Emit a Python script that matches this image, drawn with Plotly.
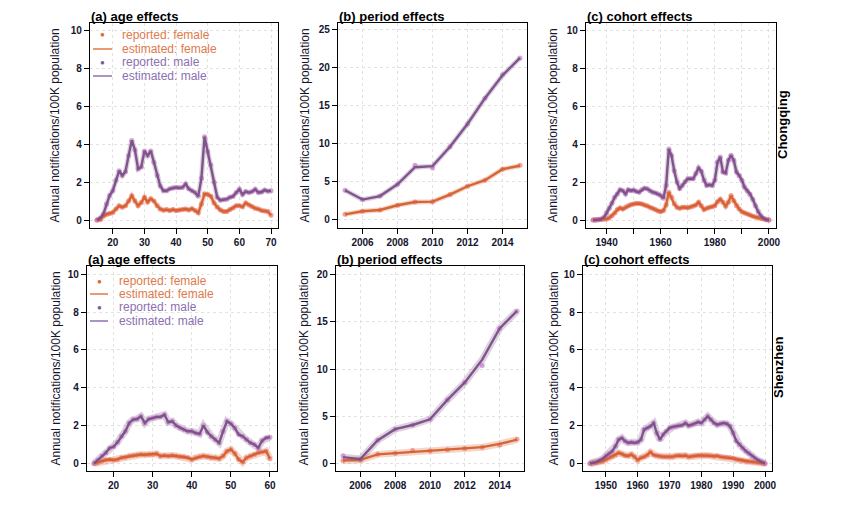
import plotly.graph_objects as go

# page is 843x507; plotly's page body has an 8px margin, so the figure is drawn at (8, 8)
PAGE_W, PAGE_H = 843, 507
OFF = 8
W, H = PAGE_W - OFF, PAGE_H - OFF

# ---------------- data ----------------
age_cq = list(range(15, 71))
male_age_cq = [0, 0.1, 0.3, 0.85, 1.3, 1.55, 2.1, 2.6, 2.35, 2.55,
               3.4, 4.2, 3.7, 2.7, 2.8, 3.65, 3.4, 3.65, 3.05, 2.35,
               1.8, 1.55, 1.55, 1.65, 1.7, 1.72, 1.7, 1.72, 1.9, 1.65,
               1.55, 1.45, 1.25, 2.2, 4.4, 3.6, 2.9, 2.0, 1.2, 1.05,
               1.08, 1.1, 1.2, 1.25, 1.45, 1.62, 1.35, 1.5, 1.45, 1.5,
               1.62, 1.45, 1.48, 1.58, 1.52, 1.55]
female_age_cq = [0, 0.02, 0.2, 0.3, 0.35, 0.4, 0.58, 0.75, 0.68, 0.75,
                 1.0, 1.28, 1.0, 0.76, 0.92, 1.2, 0.95, 1.12, 1.0, 0.75,
                 0.58, 0.52, 0.55, 0.5, 0.55, 0.5, 0.53, 0.55, 0.58, 0.53,
                 0.6, 0.5, 0.38, 0.85, 1.38, 1.35, 1.25, 0.9, 0.68, 0.53,
                 0.45, 0.45, 0.55, 0.63, 0.76, 0.76, 0.7, 0.9, 0.8, 0.72,
                 0.62, 0.58, 0.5, 0.48, 0.45, 0.25]

year = list(range(2005, 2016))
male_per_cq_est = [3.87, 2.64, 3.1, 4.66, 6.9, 7.05, 9.6, 12.6, 16.0, 19.0, 21.3]
male_per_cq_rep = [3.87, 2.64, 3.1, 4.66, 7.15, 6.8, 9.6, 12.6, 16.0, 19.1, 21.3]
female_per_cq_est = [0.7, 1.1, 1.27, 1.9, 2.33, 2.37, 3.3, 4.4, 5.2, 6.65, 7.1]
female_per_cq_rep = [0.7, 1.1, 1.27, 1.9, 2.33, 2.37, 3.3, 4.4, 5.2, 6.65, 7.15]

cohort_cq = list(range(1935, 2001))
male_coh_cq = [0, 0, 0.02, 0.05, 0.14, 0.37, 0.62, 0.9, 1.2, 1.38,
               1.6, 1.55, 1.38, 1.6, 1.55, 1.58, 1.5, 1.47, 1.6, 1.68,
               1.65, 1.55, 1.47, 1.43, 1.38, 1.3, 1.15, 1.82, 3.75, 3.4,
               2.6, 2.0, 1.65, 1.82, 2.03, 2.18, 2.18, 2.18, 2.45, 2.75,
               2.57, 2.1, 1.82, 1.86, 1.82, 2.1, 3.06, 3.33, 2.53, 2.48,
               3.15, 3.42, 3.15, 2.53, 2.35, 2.1, 1.73, 1.55, 1.38, 1.1,
               0.76, 0.44, 0.23, 0.09, 0.02, 0]
female_coh_cq = [0, 0, 0.01, 0.03, 0.05, 0.05, 0.12, 0.23, 0.37, 0.55,
                 0.64, 0.58, 0.67, 0.76, 0.81, 0.85, 0.88, 0.87, 0.85, 0.8,
                 0.76, 0.67, 0.62, 0.55, 0.48, 0.44, 0.5, 0.8, 1.47, 1.2,
                 0.85, 0.67, 0.62, 0.67, 0.67, 0.65, 0.69, 0.73, 0.8, 0.94,
                 0.76, 0.55, 0.62, 0.67, 0.7, 0.76, 0.97, 1.1, 0.94, 0.73,
                 0.94, 1.29, 1.02, 0.76, 0.58, 0.44, 0.37, 0.32, 0.27, 0.2,
                 0.16, 0.12, 0.09, 0.05, 0.02, 0]

age_sz = list(range(15, 61))
male_age_sz = [0, 0.18, 0.39, 0.56, 0.82, 0.88, 1.12, 1.44, 1.7, 2.14,
               2.32, 2.35, 2.49, 2.14, 2.35, 2.4, 2.46, 2.46, 2.58, 2.18,
               2.23, 2.0, 1.88, 1.79, 1.7, 1.7, 1.61, 1.56, 2.0, 1.65,
               1.44, 1.26, 1.09, 1.7, 2.23, 2.1, 1.88, 1.53, 1.44, 1.26,
               1.09, 1.0, 0.82, 1.2, 1.35, 1.39]
female_age_sz = [0, 0.04, 0.12, 0.18, 0.21, 0.18, 0.21, 0.3, 0.33, 0.39,
                 0.42, 0.44, 0.47, 0.46, 0.47, 0.47, 0.51, 0.39, 0.42, 0.39,
                 0.42, 0.39, 0.35, 0.35, 0.3, 0.21, 0.3, 0.35, 0.39, 0.35,
                 0.3, 0.3, 0.26, 0.39, 0.65, 0.74, 0.53, 0.21, 0.07, 0.3,
                 0.39, 0.47, 0.56, 0.6, 0.65, 0.25]

male_per_sz_est = [0.7, 0.5, 2.5, 3.66, 4.1, 4.7, 6.75, 8.6, 11.0, 14.3, 16.15]
male_per_sz_rep = [0.85, 0.45, 2.5, 3.66, 4.1, 4.7, 6.75, 8.6, 10.4, 14.3, 16.15]
female_per_sz_est = [0.35, 0.42, 1.0, 1.12, 1.3, 1.34, 1.48, 1.62, 1.76, 2.1, 2.55]
female_per_sz_rep = [0.35, 0.42, 1.0, 1.12, 1.4, 1.34, 1.48, 1.62, 1.76, 2.0, 2.6]

cohort_sz = list(range(1945, 2001))
male_coh_sz = [0, 0.04, 0.07, 0.16, 0.25, 0.39, 0.53, 0.65, 0.91, 1.26,
               1.35, 1.18, 1.09, 1.12, 1.09, 1.12, 1.26, 1.79, 1.88, 1.96,
               2.14, 1.61, 1.26, 1.53, 1.7, 1.88, 1.93, 1.96, 2.0, 2.02,
               2.14, 2.0, 2.05, 2.1, 2.19, 2.14, 2.32, 2.49, 2.32, 2.14,
               2.05, 2.1, 2.14, 2.1, 1.96, 1.61, 1.18, 1.0, 0.82, 0.65,
               0.53, 0.39, 0.25, 0.16, 0.07, 0]
female_coh_sz = [0, 0.02, 0.04, 0.08, 0.12, 0.21, 0.3, 0.37, 0.45, 0.56,
                 0.5, 0.42, 0.4, 0.47, 0.35, 0.18, 0.3, 0.35, 0.45, 0.6,
                 0.45, 0.4, 0.38, 0.36, 0.35, 0.35, 0.36, 0.4, 0.42, 0.4,
                 0.42, 0.35, 0.38, 0.4, 0.42, 0.42, 0.42, 0.42, 0.4, 0.38,
                 0.4, 0.35, 0.33, 0.32, 0.3, 0.27, 0.22, 0.18, 0.15, 0.12,
                 0.1, 0.08, 0.06, 0.04, 0.02, 0]

legend_labels = ["reported: female", "estimated: female", "reported: male", "estimated: male"]
panel_titles = ["(a) age effects", "(b) period effects", "(c) cohort effects"]
region_labels = ["Chongqing", "Shenzhen"]
ytitle = "Annual notifications/100K population"

# ---------------- style ----------------
MALE = "#7B4F88"
FEMALE = "#D4602E"
MALE_PT = "rgba(190,115,190,0.65)"
FEMALE_PT = "rgba(238,110,100,0.65)"
FONT = "Liberation Sans, Arial, sans-serif"
TXT = "#15152e"


def fx(px):
    return (px - OFF) / W


def fy(py):
    return 1 - (py - OFF) / H


panels = [
    dict(px=(90, 278), py=(23, 228), xr=[12.8, 72.2], yr=[-0.42, 10.4],
         xt=[20, 30, 40, 50, 60, 70], xl=None, yt=[0, 2, 4, 6, 8, 10],
         x=age_cq, mr=male_age_cq, me=male_age_cq, fr=female_age_cq, fe=female_age_cq, bw=5),
    dict(px=(338, 527), py=(23, 228), xr=[2004.6, 2015.4], yr=[-1.1, 25.9],
         xt=[2006, 2008, 2010, 2012, 2014], xl=None, yt=[0, 5, 10, 15, 20, 25],
         x=year, mr=male_per_cq_rep, me=male_per_cq_est, fr=female_per_cq_rep, fe=female_per_cq_est, bw=5),
    dict(px=(586, 776), py=(23, 228), xr=[1932.4, 2002.6], yr=[-0.42, 10.4],
         xt=[1940, 1950, 1960, 1970, 1980, 1990, 2000], xl=["1940", "", "1960", "", "1980", "", "2000"],
         yt=[0, 2, 4, 6, 8, 10],
         x=cohort_cq, mr=male_coh_cq, me=male_coh_cq, fr=female_coh_cq, fe=female_coh_cq, bw=5),
    dict(px=(87, 277), py=(266, 471), xr=[13.2, 61.8], yr=[-0.4, 10.44],
         xt=[20, 30, 40, 50, 60], xl=None, yt=[0, 2, 4, 6, 8, 10],
         x=age_sz, mr=male_age_sz, me=male_age_sz, fr=female_age_sz, fe=female_age_sz, bw=7),
    dict(px=(336, 524), py=(266, 471), xr=[2004.6, 2015.4], yr=[-0.76, 20.9],
         xt=[2006, 2008, 2010, 2012, 2014], xl=None, yt=[0, 5, 10, 15, 20],
         x=year, mr=male_per_sz_rep, me=male_per_sz_est, fr=female_per_sz_rep, fe=female_per_sz_est, bw=7),
    dict(px=(583, 772), py=(266, 471), xr=[1942.8, 2002.2], yr=[-0.4, 10.44],
         xt=[1950, 1960, 1970, 1980, 1990, 2000], xl=None, yt=[0, 2, 4, 6, 8, 10],
         x=cohort_sz, mr=male_coh_sz, me=male_coh_sz, fr=female_coh_sz, fe=female_coh_sz, bw=7),
]

fig = go.Figure()
layout = dict(width=W, height=H, margin=dict(l=0, r=0, t=0, b=0, autoexpand=False),
              paper_bgcolor="white", plot_bgcolor="white", showlegend=False,
              font=dict(family=FONT, color=TXT))
annotations = []
shapes = []

for i, p in enumerate(panels, start=1):
    xa = "x" if i == 1 else f"x{i}"
    ya = "y" if i == 1 else f"y{i}"
    for yv, col in ((p["fe"], FEMALE), (p["me"], MALE)):
        fig.add_trace(go.Scatter(x=p["x"], y=yv, xaxis=xa, yaxis=ya, mode="lines",
                                 line=dict(color=col, width=p["bw"]), opacity=0.25,
                                 hoverinfo="skip"))
    for yv, col in ((p["fr"], FEMALE_PT), (p["mr"], MALE_PT)):
        fig.add_trace(go.Scatter(x=p["x"], y=yv, xaxis=xa, yaxis=ya, mode="markers",
                                 marker=dict(color=col, size=5, line=dict(width=0))))
    for yv, col in ((p["fe"], FEMALE), (p["me"], MALE)):
        fig.add_trace(go.Scatter(x=p["x"], y=yv, xaxis=xa, yaxis=ya, mode="lines",
                                 line=dict(color=col, width=2.4), opacity=0.95))

    x0, x1 = p["px"]
    y0, y1 = p["py"]
    common = dict(showline=True, linecolor="black", linewidth=1.3, mirror=True,
                  ticks="outside", ticklen=5, tickwidth=1, tickcolor="black",
                  showgrid=True, gridcolor="#e2e2e2", griddash="3px,3px", gridwidth=1,
                  zeroline=False, tickfont=dict(family=FONT, size=10, color=TXT, weight="bold"))
    xax = dict(domain=[fx(x0), fx(x1)], range=p["xr"], anchor=ya,
               tickmode="array", tickvals=p["xt"],
               ticktext=p["xl"] if p["xl"] else [str(v) for v in p["xt"]], **common)
    yax = dict(domain=[fy(y1), fy(y0)], range=p["yr"], anchor=xa,
               tickmode="array", tickvals=p["yt"], ticktext=[str(v) for v in p["yt"]], **common)
    layout["xaxis" if i == 1 else f"xaxis{i}"] = xax
    layout["yaxis" if i == 1 else f"yaxis{i}"] = yax

    col = (i - 1) % 3
    annotations.append(dict(text=f"<b>{panel_titles[col]}</b>", x=fx(x0), y=fy(y0 - 6.5),
                            xref="paper", yref="paper", xanchor="left", yanchor="middle",
                            borderpad=0, showarrow=False,
                            font=dict(size=13, color="black", family=FONT)))
    ytx = [55, 305, 553][col] if i <= 3 else [55, 303, 553][col]
    annotations.append(dict(text=ytitle, x=fx(ytx), y=fy((y0 + y1) / 2),
                            xref="paper", yref="paper", xanchor="center", yanchor="middle",
                            textangle=-90, showarrow=False, font=dict(size=12, color=TXT, family=FONT)))

for lab, (xp, yp) in zip(region_labels, [(782, 125), (778, 368)]):
    annotations.append(dict(text=f"<b>{lab}</b>", x=fx(xp), y=fy(yp), xref="paper", yref="paper",
                            xanchor="center", yanchor="middle", textangle=-90, showarrow=False,
                            font=dict(size=13, color="black", family=FONT)))

leg_cols_text = ["#E07A4C", "#E07A4C", "#8C70B0", "#8C70B0"]
leg_cols_key = ["#D9683A", "#E0784A", "#7A5A99", "#8C70B0"]
for (dotx, linex0, linex1, textx, rows) in [(102, 93, 112, 120, [35, 49, 62, 76]),
                                            (99, 90, 108, 117, [281, 294, 307, 321])]:
    for k, (lab, yy) in enumerate(zip(legend_labels, rows)):
        annotations.append(dict(text=lab, x=fx(textx), y=fy(yy), xref="paper", yref="paper",
                                xanchor="left", yanchor="middle", showarrow=False,
                                font=dict(size=12, color=leg_cols_text[k], family=FONT)))
        if k % 2 == 0:
            annotations.append(dict(text="●", x=fx(dotx), y=fy(yy), xref="paper", yref="paper",
                                    xanchor="center", yanchor="middle", showarrow=False,
                                    font=dict(size=8, color=leg_cols_key[k], family=FONT)))
        else:
            shapes.append(dict(type="line", xref="paper", yref="paper",
                               x0=fx(linex0), x1=fx(linex1), y0=fy(yy), y1=fy(yy),
                               line=dict(color=leg_cols_key[k], width=1.5)))

layout["annotations"] = annotations
layout["shapes"] = shapes
fig.update_layout(**layout)
fig.write_html("out.html")
